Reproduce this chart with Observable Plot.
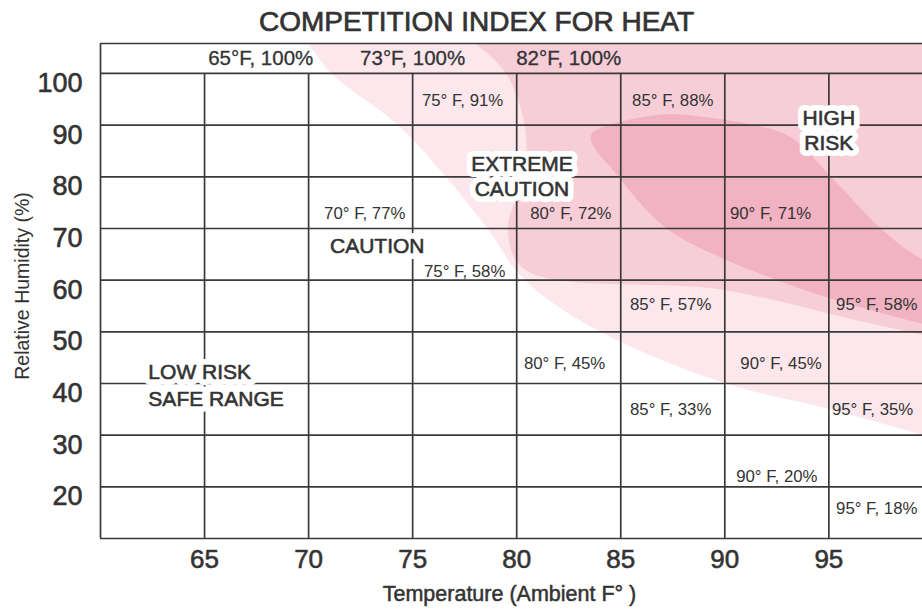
<!DOCTYPE html>
<html><head><meta charset="utf-8">
<script src="https://cdn.jsdelivr.net/npm/d3@7"></script>
<script src="https://cdn.jsdelivr.net/npm/@observablehq/plot@0.6"></script>
<style>body{margin:0;background:#fff;} svg{display:block;}</style>
</head><body><div id="chart"></div>
<script>
// ---- axis ticks ----
const tempTicks = [65, 70, 75, 80, 85, 90, 95];
const humidityTicks = [100, 90, 80, 70, 60, 50, 40, 30, 20];
const humidityBottom = 10;
const humidityTop = 105.8;

// ---- shaded zones: edge temperature (°F) at each humidity level ----
const cautionHumidity = [105.8, 100, 90, 80, 70, 60, 50, 40, 35, 30];
const cautionEdge     = [70.0, 71.1, 74.3, 76.6, 78.6, 80.4, 84.0, 90.0, 95.0, 99.5];
const extremeHumidity = [105.8, 100, 90, 80, 70, 62, 58, 52, 48];
const extremeEdge     = [78.0, 79.5, 80.4, 80.4, 79.6, 80.4, 90.0, 96.5, 101];
const highHumidity    = [92, 88, 80, 70, 64, 57, 51.5];
const highLeft        = [87.0, 83.6, 84.9, 87.2, 90.0, 94.6, 99.5];
const highRight       = [87.8, 93.0, 95.1, 97.5, 99.5, 104, 110];

// ---- point labels ----
const pointTemps = [75, 85, 70, 80, 90, 75, 85, 95, 80, 90, 85, 95, 90, 95];
const pointHums  = [91, 88, 77, 72, 71, 58, 57, 58, 45, 45, 33, 35, 20, 18];
const pointAtT   = [77.4, 87.5, 72.7, 82.6, 92.2, 77.5, 87.4, 97.3, 82.3, 92.7, 87.4, 97.1, 92.5, 97.3];
const pointAtH   = [94.7, 94.7, 72.9, 72.9, 72.9, 61.6, 55.3, 55.3, 43.8, 43.8, 35.0, 35.0, 22.0, 15.8];

const topTemps = [65, 73, 82];
const topAtT   = [67.7, 75.0, 82.5];
const topAtH   = 103.0;

// ---- zone labels ----
const zoneNames = ["EXTREME\nCAUTION", "HIGH\nRISK", "CAUTION"];
const zoneAtT   = [80.25, 95.0, 73.3];
const zoneAtH   = [80.3, 89.1, 66.9];
const safeName  = "LOW RISK\nSAFE RANGE";
const safeAtT   = 62.3, safeAtH = 39.9;

const FONT = "'Liberation Sans', Arial, Helvetica, sans-serif";
const INK = "#333";
const GRID = "#3a3a3a";

const caution = cautionHumidity.map((h, i) => ({h, a: cautionEdge[i]}));
const extreme = extremeHumidity.map((h, i) => ({h, a: extremeEdge[i]}));
const high = highHumidity.map((h, i) => ({h, l: highLeft[i], r: highRight[i]}));
const points = pointTemps.map((t, i) => ({t, h: pointHums[i], x: pointAtT[i], y: pointAtH[i]}));
const tops = topTemps.map((t, i) => ({t, x: topAtT[i], y: topAtH}));
const zones = zoneNames.map((n, i) => ({n, x: zoneAtT[i], y: zoneAtH[i]}));

// medium-weight look: regular glyphs with a thin outline of the same ink
const medium = {fill: INK, stroke: INK, strokeWidth: 0.6};

const chart = Plot.plot({
  width: 922, height: 609,
  marginLeft: 100, marginRight: 0, marginTop: 43, marginBottom: 71,
  x: {domain: [60, 99.5], axis: null},
  y: {domain: [humidityBottom, humidityTop], axis: null},
  style: {fontFamily: FONT, background: "white"},
  marks: [
    // shaded zones
    Plot.areaX(caution, {y: "h", x1: "a", x2: () => 140, fill: "#fce7ec", curve: "catmull-rom", clip: true}),
    Plot.areaX(extreme, {y: "h", x1: "a", x2: () => 140, fill: "#f7cdd7", curve: "catmull-rom", clip: true}),
    Plot.areaX(high, {y: "h", x1: "l", x2: "r", fill: "#f1b2c1", curve: "catmull-rom", clip: true}),
    // grid
    Plot.ruleY(humidityTicks.concat([humidityBottom, humidityTop]), {stroke: GRID, strokeWidth: 1.7}),
    Plot.ruleX(tempTicks, {y1: humidityBottom, y2: 100, stroke: GRID, strokeWidth: 1.7}),
    Plot.ruleX([60], {stroke: GRID, strokeWidth: 1.7}),
    // axis tick labels
    Plot.text(tempTicks, {x: d => d, frameAnchor: "bottom", lineAnchor: "middle", dy: 21, fontSize: 26, ...medium}),
    Plot.text(humidityTicks, {y: d => d, frameAnchor: "left", lineAnchor: "middle", dx: -18, dy: 10, textAnchor: "end", fontSize: 27, ...medium}),
    // axis titles and title
    Plot.text(["Temperature (Ambient F° )"], {frameAnchor: "bottom", lineAnchor: "middle", textAnchor: "middle", dx: -2, dy: 56, fontSize: 21.5, ...medium, strokeWidth: 0.5}),
    Plot.text(["Relative Humidity (%)"], {frameAnchor: "left", lineAnchor: "middle", textAnchor: "middle", dx: -78, dy: -5, rotate: -90, fontSize: 19.5, fill: INK}),
    Plot.text(["COMPETITION INDEX FOR HEAT"], {frameAnchor: "top", lineAnchor: "middle", textAnchor: "middle", dx: -35, dy: -21, fontSize: 28, ...medium, strokeWidth: 0.7}),
    // top row labels
    Plot.text(tops, {x: "x", y: "y", text: d => `${d.t}°F, 100%`, fontSize: 20.5, ...medium, strokeWidth: 0.3}),
    // point labels
    Plot.text(points, {x: "x", y: "y", text: d => `${d.t}° F, ${d.h}%`, fontSize: 16.8, fill: INK}),
    // zone labels on white boxes
    Plot.text(zones, {x: "x", y: "y", text: "n", fontSize: 21, lineHeight: 1.2, fill: "white", stroke: "white", strokeWidth: 12, strokeLinejoin: "round"}),
    Plot.text(zones, {x: "x", y: "y", text: "n", fontSize: 21, lineHeight: 1.2, ...medium}),
    Plot.text([safeName], {x: () => safeAtT, y: () => safeAtH, textAnchor: "start", fontSize: 21, lineHeight: 1.3, fill: "white", stroke: "white", strokeWidth: 12, strokeLinejoin: "round"}),
    Plot.text([safeName], {x: () => safeAtT, y: () => safeAtH, textAnchor: "start", fontSize: 21, lineHeight: 1.3, ...medium})
  ]
});
document.getElementById("chart").append(chart);
</script>
</body></html>
